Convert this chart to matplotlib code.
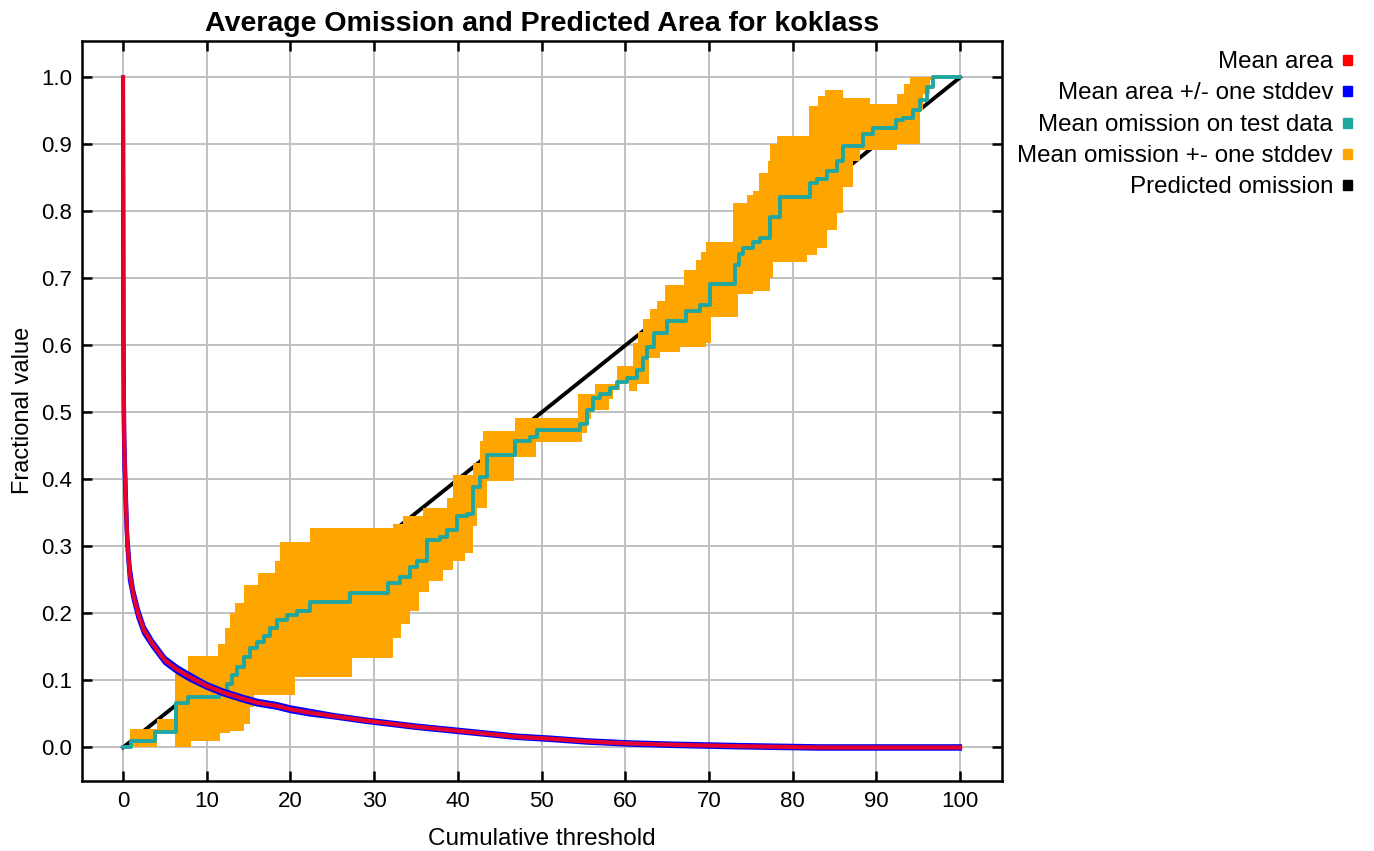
#!/usr/bin/env python3
# -*- coding: utf-8 -*-

import matplotlib
matplotlib.use('Agg')
import matplotlib.pyplot as plt
from matplotlib.patches import Rectangle

# mean fractional predicted area vs cumulative threshold
area_x = [0, 0.05, 0.15, 0.3, 0.5, 0.8, 1.2, 1.8, 2.5, 3.5, 5, 6.5, 8, 10, 12, 14.3,
          16, 18.4, 20, 22.3, 25, 29, 31, 35, 39, 43, 47, 51, 55.4, 60.3, 65.6,
          73.2, 83.0, 100]
area_y = [1.0, 0.60, 0.45, 0.38, 0.31, 0.26, 0.23, 0.20, 0.175, 0.155, 0.13, 0.116,
          0.105, 0.092, 0.082, 0.073, 0.067, 0.062, 0.057, 0.052, 0.047, 0.040,
          0.037, 0.031, 0.026, 0.021, 0.016, 0.013, 0.009, 0.006, 0.004, 0.002,
          0.0, 0.0]
area_hi = [1.0, 0.62, 0.47, 0.40, 0.32, 0.27, 0.236, 0.206, 0.180, 0.159, 0.134, 0.120,
           0.109, 0.095, 0.085, 0.076, 0.070, 0.065, 0.060, 0.055, 0.049, 0.042,
           0.039, 0.033, 0.028, 0.023, 0.018, 0.015, 0.011, 0.008, 0.006, 0.004,
           0.002, 0.002]
area_lo = [1.0, 0.50, 0.42, 0.36, 0.30, 0.25, 0.224, 0.194, 0.170, 0.151, 0.126, 0.112,
           0.101, 0.089, 0.079, 0.070, 0.064, 0.059, 0.054, 0.049, 0.045, 0.038,
           0.035, 0.029, 0.024, 0.019, 0.014, 0.011, 0.007, 0.004, 0.002, 0.0,
           -0.002, -0.002]

# mean omission on test data (step starts)
om_x = [0, 1.0, 3.8, 6.3, 7.8, 11.5, 12.4, 13.0, 13.6, 14.4, 15.2, 16.0, 16.8, 17.6,
        18.4, 19.6, 20.8, 22.3, 27.1, 31.7, 33.1, 34.3, 35.1, 36.3, 37.9, 38.7,
        39.9, 41.1, 41.8, 42.7, 43.5, 46.8, 48.6, 49.4, 54.6, 55.4, 56.2, 57.0,
        58.2, 59.0, 60.2, 61.4, 62.1, 62.6, 63.4, 65.0, 67.3, 68.9, 70.1, 73.1,
        73.6, 74.1, 75.3, 76.1, 77.3, 78.5, 82.1, 82.9, 84.1, 85.3, 86.0, 88.4,
        89.6, 92.4, 93.2, 94.4, 95.2, 96.0, 96.8, 100]
om_y = [0.0, 0.010, 0.023, 0.066, 0.075, 0.080, 0.095, 0.108, 0.120, 0.135, 0.149,
        0.158, 0.167, 0.178, 0.190, 0.198, 0.204, 0.217, 0.230, 0.245, 0.254, 0.269,
        0.279, 0.309, 0.314, 0.324, 0.346, 0.349, 0.388, 0.403, 0.436, 0.458, 0.463,
        0.474, 0.483, 0.503, 0.522, 0.528, 0.537, 0.545, 0.552, 0.563, 0.582, 0.597,
        0.618, 0.637, 0.652, 0.660, 0.692, 0.720, 0.737, 0.746, 0.754, 0.761, 0.791,
        0.821, 0.842, 0.849, 0.861, 0.876, 0.898, 0.916, 0.925, 0.936, 0.940, 0.951,
        0.966, 0.985, 1.0, 1.0]

# mean omission +/- one stddev (step starts)
up_x = [0, 0.8, 4.0, 6.2, 7.8, 11.4, 12.2, 12.8, 13.4, 14.4, 16.1, 18.2, 18.8, 22.3,
        32.3, 33.5, 35.8, 38.7, 39.4, 41.8, 42.7, 43.0, 46.8, 54.4, 56.4, 59.0,
        60.9, 61.5, 62.1, 63.0, 63.8, 64.8, 67.0, 68.5, 69.0, 69.7, 72.9, 74.5,
        75.3, 76.0, 77.0, 77.3, 78.1, 82.0, 83.0, 83.9, 86.0, 89.2, 92.5, 93.3,
        94.0, 100]
up_y = [0.0, 0.028, 0.043, 0.110, 0.137, 0.155, 0.178, 0.200, 0.216, 0.242, 0.260,
        0.279, 0.306, 0.328, 0.334, 0.345, 0.358, 0.373, 0.406, 0.424, 0.458, 0.473,
        0.492, 0.528, 0.543, 0.570, 0.603, 0.620, 0.640, 0.655, 0.667, 0.690, 0.712,
        0.727, 0.740, 0.754, 0.812, 0.825, 0.831, 0.857, 0.876, 0.901, 0.913, 0.958,
        0.972, 0.981, 0.969, 0.961, 0.976, 0.990, 1.0, 1.0]
lo_x = [0, 4.0, 6.2, 8.1, 11.6, 12.8, 14.4, 15.2, 15.6, 20.5, 27.3, 32.2, 33.2, 34.3,
        35.3, 36.5, 38.2, 39.4, 40.8, 41.8, 42.3, 43.5, 46.7, 49.3, 54.8, 55.4,
        55.9, 58.1, 58.5, 59.4, 60.5, 61.4, 62.8, 64.2, 66.5, 69.7, 70.3, 73.5,
        75.3, 77.3, 77.7, 81.7, 82.9, 84.1, 85.3, 86.0, 87.2, 88.1, 92.5, 95.2,
        95.6, 96.4, 97.0, 100]
lo_y = [0.0, 0.021, 0.0, 0.010, 0.021, 0.025, 0.035, 0.060, 0.078, 0.105, 0.134,
        0.164, 0.185, 0.204, 0.232, 0.249, 0.265, 0.279, 0.290, 0.330, 0.358, 0.398,
        0.433, 0.456, 0.470, 0.490, 0.503, 0.520, 0.533, 0.548, 0.532, 0.543, 0.582,
        0.590, 0.597, 0.603, 0.642, 0.677, 0.682, 0.700, 0.725, 0.735, 0.746, 0.772,
        0.797, 0.836, 0.876, 0.891, 0.901, 0.951, 0.976, 0.996, 1.0, 1.0]

pred_x = [0, 100]
pred_y = [0, 1]

legend_labels = ['Mean area', 'Mean area +/- one stddev', 'Mean omission on test data',
                 'Mean omission +- one stddev', 'Predicted omission']
legend_colors = ['#ff0000', '#0000ff', '#20a8a0', '#ffa500', '#000000']


def step_pts(xs, ys):
    px, py = [], []
    for i in range(len(xs)):
        px.append(xs[i])
        py.append(ys[i])
        if i + 1 < len(xs):
            px.append(xs[i + 1])
            py.append(ys[i])
    return px, py


plt.rcParams['font.family'] = ['Liberation Sans', 'DejaVu Sans']

fig = plt.figure(figsize=(13.74, 8.51), dpi=100)
ax = fig.add_axes([0.0597, 0.0823, 0.6695, 0.870])

ax.plot(pred_x, pred_y, color='black', lw=2.8, zorder=2)

ux, uy = step_pts(up_x, up_y)
lx, ly = step_pts(lo_x, lo_y)
ax.fill(ux + lx[::-1], uy + ly[::-1], color='#ffa500', lw=0, zorder=3)

ox, oy = step_pts(om_x, om_y)
ax.plot(ox, oy, color='#20a8a0', lw=2.8, zorder=4)

ax.plot(area_x, area_hi, color='#0000ff', lw=2.8, zorder=5)
ax.plot(area_x, area_lo, color='#0000ff', lw=2.8, zorder=5)
ax.plot(area_x, area_y, color='#e6002e', lw=3.0, zorder=6)

ax.set_xlim(-4.9, 105.0)
ax.set_ylim(-0.05, 1.055)
ax.set_xticks(range(0, 101, 10))
ax.set_yticks([i / 10 for i in range(11)])
ax.set_yticklabels(['%.1f' % (i / 10) for i in range(11)])
ax.grid(True, color='#c0c0c0', lw=1.4)
ax.set_axisbelow(True)
ax.tick_params(axis='both', direction='in', length=7, width=1.8, labelsize=16,
               top=True, right=True, pad=7)
for s in ax.spines.values():
    s.set_linewidth(1.8)

ax.set_title('Average Omission and Predicted Area for koklass', fontsize=20.5,
             fontweight='bold', pad=7)
ax.set_xlabel('Cumulative threshold', fontsize=17.5, labelpad=12)
ax.set_ylabel('Fractional value', fontsize=17, labelpad=5)

# legend: right-aligned text with a small colour square after it
for i, (lab, col) in enumerate(zip(legend_labels, legend_colors)):
    yy = 1 - (62 + i * 31.3) / 851
    fig.text(1333 / 1374, yy, lab, ha='right', va='center', fontsize=17.4)
    fig.patches.append(Rectangle((1343 / 1374, yy - 3 / 851), 9 / 1374, 10 / 851,
                                 transform=fig.transFigure, color=col))

plt.savefig('out.png', dpi=100)
